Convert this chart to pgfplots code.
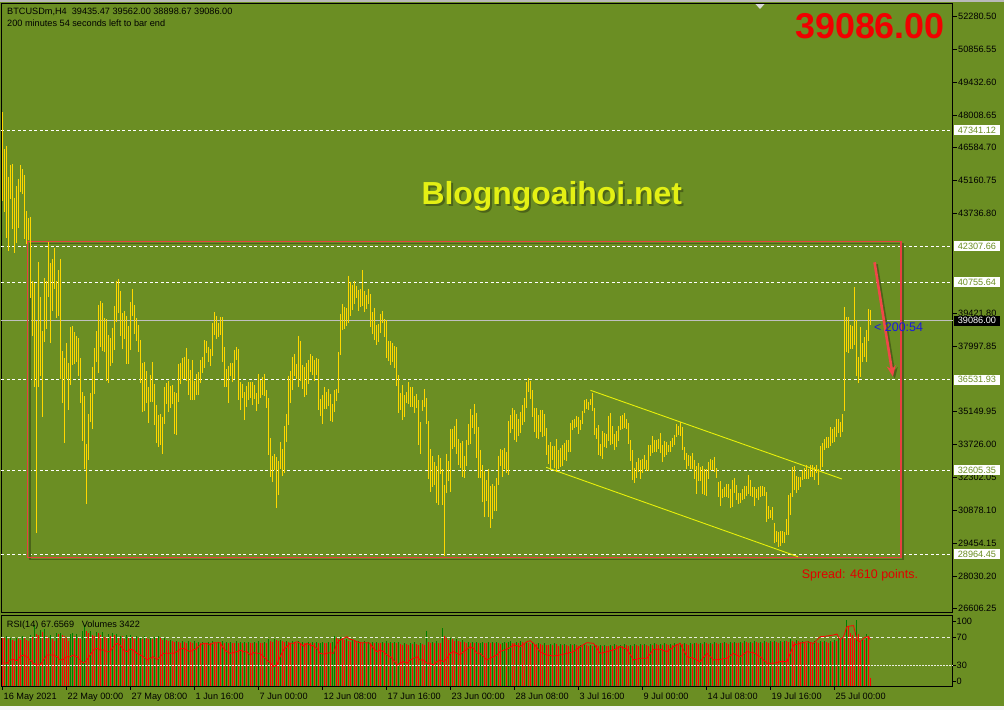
\documentclass[border=0pt]{standalone}
\usepackage{pgfplots}
\pgfplotsset{compat=1.18}
\usepackage{pgfplotstable}
\usepackage{fontspec}
\setmainfont{Liberation Sans}
\usetikzlibrary{arrows.meta,calc,backgrounds}

\definecolor{chartbg}{RGB}{107,142,35}
\definecolor{shadowc}{RGB}{75,99,25}
\definecolor{barcol}{RGB}{255,215,0}
\definecolor{chan}{RGB}{232,240,10}
\definecolor{rectred}{RGB}{232,64,64}
\definecolor{arrred}{RGB}{240,72,72}
\definecolor{bidgray}{RGB}{192,192,192}
\definecolor{volred}{RGB}{255,0,0}
\definecolor{volgreen}{RGB}{0,128,0}
\newcommand\sm{\fontsize{9.2}{11}\selectfont}

% BTCUSD H4 bars: high low (one row per bar, 16 May - 28 Jul 2021)
\pgfplotstableread[row sep=\\]{
h l\\
48134 44277\\ 46530 43800\\ 46660 42673\\ 45317 42110\\ 45837 44363\\ 45881 43063\\ 44407 42023\\ 44926 42456\\
45230 43107\\ 45837 44666\\ 45663 44580\\ 45403 42629\\ 43844 42413\\ 43540 42586\\ 43583 40073\\ 40810 38426\\
40723 36215\\ 39076 29888\\ 41633 36215\\ 40116 36692\\ 38643 34916\\ 40939 38165\\ 40810 38729\\ 42499 40116\\
41590 38122\\ 41763 39510\\ 42240 40462\\ 40810 39206\\ 41286 39293\\ 41763 36562\\ 37776 35522\\ 37473 33788\\
38122 36562\\ 37256 35219\\ 38816 36302\\ 38859 37169\\ 38599 37213\\ 38426 37299\\ 38339 36692\\ 37473 35522\\
35998 33875\\ 35825 32661\\ 33745 31145\\ 35046 33052\\ 35955 34698\\ 37082 34395\\ 37906 35912\\ 38643 37299\\
39769 36822\\ 39943 37949\\ 39856 37776\\ 39206 37732\\ 39163 36476\\ 38469 36389\\ 38339 37126\\ 38773 37256\\
39726 37819\\ 40810 39032\\ 40896 39423\\ 40376 38426\\ 39423 37862\\ 39510 38295\\ 39293 37213\\ 38859 37213\\
39899 37819\\ 40462 39293\\ 39769 38513\\ 39206 38209\\ 38902 37732\\ 38252 36389\\ 37256 35132\\ 37299 35176\\
36909 35522\\ 36215 34655\\ 36736 35565\\ 37299 35565\\ 36346 34568\\ 35435 33788\\ 35002 33615\\ 35046 33701\\
34916 33312\\ 36215 34612\\ 36389 35479\\ 36476 35132\\ 36258 35306\\ 36302 35479\\ 35998 34179\\ 35955 34135\\
37213 35565\\ 37256 36346\\ 37473 36562\\ 37516 36562\\ 37906 36476\\ 37429 35868\\ 36952 35652\\ 37386 35652\\
36476 35652\\ 36779 35868\\ 36865 35868\\ 37386 36389\\ 37516 36822\\ 38252 37039\\ 38209 37689\\ 37949 37299\\
37862 37126\\ 38989 37559\\ 39466 38469\\ 39293 38295\\ 38989 38382\\ 39249 38469\\ 39249 37299\\ 37949 36215\\
36995 36215\\ 37126 35522\\ 37256 36692\\ 37256 36432\\ 37819 36562\\ 37949 37386\\ 37862 35652\\ 36432 35219\\
36346 35738\\ 35998 34785\\ 36258 35349\\ 36432 35652\\ 36432 35738\\ 36432 35435\\ 36302 35695\\ 35955 35176\\
36779 35479\\ 36519 35738\\ 36649 35868\\ 36779 35825\\ 36085 35306\\ 35738 33268\\ 34005 32315\\ 33225 32098\\
33312 32618\\ 33182 30971\\ 33008 31535\\ 33832 32661\\ 33528 32358\\ 34525 32488\\ 35046 33832\\ 36692 34568\\
36909 35522\\ 37516 36085\\ 37646 36692\\ 37213 36562\\ 38426 36215\\ 38209 36476\\ 37169 36128\\ 37082 35782\\
37256 35868\\ 37386 36346\\ 37646 36865\\ 37559 36736\\ 37386 36476\\ 37473 36736\\ 37429 35219\\ 35695 34959\\
35868 34612\\ 36215 35262\\ 35998 35262\\ 36128 35392\\ 35912 34742\\ 35479 34698\\ 36085 35132\\ 36128 35608\\
37732 35955\\ 39380 37603\\ 39813 38686\\ 39683 38729\\ 39640 38859\\ 41026 38989\\ 40766 39293\\ 40636 39553\\
40810 39813\\ 40593 40073\\ 40419 39510\\ 40462 39683\\ 41286 39726\\ 40376 39466\\ 40203 39596\\ 40462 39813\\
40246 38816\\ 39466 38513\\ 39640 38252\\ 38902 38036\\ 38946 38165\\ 39380 38556\\ 39510 38989\\ 39163 38382\\
39119 37473\\ 38209 37343\\ 38209 37169\\ 38122 37299\\ 37992 37039\\ 37949 36258\\ 36736 35089\\ 35955 35219\\
36302 34785\\ 35868 34916\\ 35998 35522\\ 36432 35479\\ 36215 35349\\ 36215 35349\\ 35825 35089\\ 35912 35306\\
35652 33701\\ 34698 33312\\ 35652 35176\\ 36128 35349\\ 35738 34612\\ 34742 32228\\ 33528 31665\\ 33225 31881\\
32965 31968\\ 32791 31188\\ 33268 31101\\ 33138 32445\\ 32661 31101\\ 31968 28891\\ 33312 31621\\ 33008 32141\\
34395 31665\\ 34395 33528\\ 34525 33615\\ 34829 33312\\ 33961 32835\\ 33788 32705\\ 33875 32315\\ 33225 32271\\
33918 32791\\ 34612 33701\\ 35262 33745\\ 35002 34439\\ 35479 34179\\ 35089 33138\\ 34482 32271\\ 33485 32271\\
32835 31231\\ 32575 30581\\ 32185 31275\\ 32661 30581\\ 31925 30105\\ 32011 30495\\ 31925 30841\\ 32271 30841\\
33225 31968\\ 33528 32791\\ 33485 32315\\ 33571 32661\\ 33398 32488\\ 34742 32401\\ 35002 34222\\ 35306 34395\\
35219 33918\\ 35046 33832\\ 34829 34092\\ 35132 34222\\ 35435 34568\\ 35738 34698\\ 36432 35306\\ 36606 35998\\
36476 35695\\ 36085 34916\\ 35306 34265\\ 35306 34005\\ 35002 33961\\ 35219 34265\\ 35219 34048\\ 35046 34092\\
34439 33268\\ 33701 32878\\ 33832 32618\\ 33658 33052\\ 33658 32705\\ 33961 32531\\ 33485 32661\\ 33571 32748\\
33701 32791\\ 33788 33052\\ 33918 33008\\ 33918 33398\\ 34655 33398\\ 34785 34352\\ 34829 34439\\ 34959 34482\\
34916 34179\\ 34785 34352\\ 35176 34612\\ 35652 35089\\ 35695 35262\\ 35565 35219\\ 35695 35435\\ 35955 35176\\
35306 34135\\ 34439 33961\\ 34568 33268\\ 33745 33225\\ 34309 33095\\ 34222 33615\\ 34179 33571\\ 34959 33875\\
35089 33701\\ 34525 33745\\ 34179 33485\\ 34309 33615\\ 34525 33875\\ 34959 34352\\ 35002 34395\\ 35089 34439\\
34829 34395\\ 34655 33745\\ 33918 33008\\ 33485 32185\\ 32705 32055\\ 32965 32271\\ 33138 32531\\ 33052 32228\\
33095 32488\\ 33268 32661\\ 33052 32575\\ 33701 32575\\ 33701 33225\\ 34092 33355\\ 33918 33398\\ 33918 33398\\
33961 33528\\ 34222 33355\\ 33701 32965\\ 33875 33182\\ 33832 33268\\ 33701 33398\\ 33875 33398\\ 34005 33615\\
34135 33701\\ 34612 34048\\ 34525 34135\\ 34698 34092\\ 34482 33485\\ 33615 33052\\ 33355 32661\\ 33268 32791\\
33225 32661\\ 33355 32661\\ 33052 32228\\ 32791 31578\\ 32921 32141\\ 32748 32141\\ 32791 31578\\ 32661 31535\\
32661 31491\\ 32965 32228\\ 33095 32618\\ 33052 32618\\ 33182 32531\\ 32705 32271\\ 32098 31448\\ 32141 31058\\
31795 31405\\ 31881 31448\\ 32011 31448\\ 32011 31405\\ 31795 30971\\ 32185 31015\\ 32271 31621\\ 31968 31318\\
31621 31145\\ 31621 31188\\ 31795 31318\\ 31925 31361\\ 31925 31491\\ 32401 31578\\ 32185 31491\\ 31881 31448\\
31881 31058\\ 31795 31405\\ 31881 31318\\ 31925 31448\\ 31925 31491\\ 31881 31491\\ 31665 30365\\ 31058 30495\\
30885 30538\\ 31015 30451\\ 30321 29455\\ 29975 29498\\ 29931 29281\\ 29975 29325\\ 29975 29455\\ 29931 29455\\
30495 29801\\ 31535 29801\\ 31621 30668\\ 32748 31448\\ 32791 31751\\ 32358 31621\\ 32315 31751\\ 32315 31881\\
32618 32185\\ 32705 32228\\ 32835 32228\\ 32661 32228\\ 32835 32315\\ 32835 32315\\ 32748 32185\\ 32835 32488\\
32661 31968\\ 33658 32618\\ 33788 32748\\ 33961 33485\\ 34048 33571\\ 34048 33571\\ 34482 33658\\ 34395 33788\\
34482 33832\\ 34829 34048\\ 34829 34222\\ 34698 34048\\ 35046 34265\\ 39683 35176\\ 39249 37732\\ 39249 37689\\
38902 37862\\ 38859 37862\\ 40549 38036\\ 39119 36692\\ 37516 36389\\ 38816 36649\\ 38122 37299\\ 38382 37516\\
38686 37299\\ 39596 38209\\ 39562 38899\\
}\bars

% tick volumes, g=1 green (up) / 0 red (down)
\pgfplotstableread[row sep=\\]{
v g\\
21500 0\\ 21000 0\\ 21800 1\\ 20500 0\\ 20900 1\\ 20100 0\\ 19800 0\\ 21200 1\\ 20600 0\\ 20300 0\\ 21900 1\\ 21000 0\\
20400 0\\ 20000 0\\ 22300 1\\ 21700 0\\ 26800 1\\ 23000 0\\ 22400 0\\ 24600 1\\ 23900 0\\ 25200 1\\
22000 0\\ 21300 0\\ 22600 1\\ 20500 0\\ 19600 0\\ 23200 1\\ 22800 0\\ 23400 1\\ 22400 0\\ 21800 0\\ 20900 0\\ 19800 0\\
22700 1\\ 23100 1\\ 22200 0\\ 22900 1\\ 21000 0\\ 20500 0\\ 24200 1\\ 26800 1\\ 24300 0\\
23400 0\\ 24100 1\\ 22600 0\\ 21900 0\\ 23800 1\\ 23200 0\\ 22500 0\\ 23600 1\\ 21700 0\\ 21200 0\\ 22800 1\\ 21900 0\\
23100 1\\ 22400 0\\ 22900 1\\ 21500 0\\ 22200 1\\ 21800 0\\ 20800 0\\ 22600 1\\ 21700 0\\ 22300 1\\ 21400 0\\ 20600 0\\
21800 1\\ 20900 0\\ 21600 1\\ 20700 0\\ 21900 1\\ 21200 0\\ 20500 0\\ 21400 1\\ 20800 0\\ 21700 1\\ 21100 0\\
21900 1\\ 21000 0\\ 20300 0\\ 20900 1\\ 20100 0\\ 19600 0\\ 20400 1\\ 19800 0\\ 19300 0\\ 20000 1\\ 19500 0\\ 19100 0\\
19900 1\\ 19400 0\\ 19000 0\\ 19700 1\\ 19200 0\\ 18900 0\\ 19600 1\\
19100 0\\ 19500 1\\ 18900 0\\ 19400 1\\ 19000 0\\ 18800 0\\ 19300 1\\ 19100 0\\ 19600 1\\ 19000 0\\
18700 0\\ 19500 1\\ 19200 0\\ 19700 1\\ 18900 0\\ 19300 1\\ 18800 0\\ 19400 1\\ 19000 0\\ 18700 0\\
19600 1\\ 19100 0\\ 19500 1\\ 18900 0\\ 19400 1\\ 18800 0\\ 19200 1\\ 19000 0\\ 18700 0\\ 19500 1\\
19100 0\\ 19600 1\\ 19000 0\\ 18800 0\\ 19300 1\\ 19000 0\\
20500 1\\ 19800 0\\ 19300 0\\ 20800 1\\ 20100 0\\ 19600 0\\ 20300 1\\ 19700 0\\ 19200 0\\ 19900 1\\ 19400 0\\ 19000 0\\
19700 1\\ 19200 0\\ 18900 0\\ 19600 1\\
19100 0\\ 19500 1\\ 19000 0\\ 18800 0\\ 19400 1\\ 18900 0\\ 19300 1\\ 18800 0\\ 19200 1\\ 18700 0\\ 19100 1\\ 19500 1\\
19000 0\\ 18700 0\\ 19400 1\\ 18900 0\\ 19200 1\\
21900 1\\ 21200 0\\ 20600 0\\ 21500 1\\ 20800 0\\ 20100 0\\ 20700 1\\ 20000 0\\ 19500 0\\ 20200 1\\ 19700 0\\ 19300 0\\
19900 1\\ 19400 0\\ 19000 0\\ 19600 1\\
19100 0\\ 19500 1\\ 18900 0\\ 19300 1\\ 18800 0\\ 19400 1\\ 19000 0\\ 18700 0\\ 19500 1\\ 19100 0\\ 19600 1\\ 18900 0\\
19200 1\\ 18800 0\\ 19300 1\\ 18900 0\\ 19400 1\\
18600 0\\ 18200 0\\ 19000 1\\ 18500 0\\ 17900 0\\ 18800 1\\ 18300 0\\ 19200 1\\ 18600 0\\ 18100 0\\ 18900 1\\ 18400 0\\
18000 0\\ 24100 1\\ 19200 0\\ 18700 0\\
19300 1\\ 18900 0\\ 19600 1\\ 19100 0\\ 18700 0\\ 25400 1\\ 21800 0\\ 21000 0\\ 20300 0\\ 21300 1\\ 20600 0\\ 19900 0\\
20600 1\\ 20000 0\\ 19400 0\\ 20100 1\\ 19500 0\\
19000 0\\ 19400 1\\ 18900 0\\ 19300 1\\ 18800 0\\ 19200 1\\ 18700 0\\ 19100 1\\ 19500 1\\ 19000 0\\ 18700 0\\ 19400 1\\
18900 0\\ 19300 1\\ 18800 0\\ 19200 1\\ 18700 0\\
18400 0\\ 18900 1\\ 19500 1\\ 18800 0\\ 19300 1\\ 19700 1\\ 19100 0\\ 18700 0\\ 19400 1\\ 18900 0\\ 19800 1\\ 19200 0\\
18800 0\\ 19500 1\\ 18900 0\\ 18500 0\\ 19100 1\\ 18600 0\\ 18300 0\\ 18900 1\\ 18400 0\\ 18000 0\\
18700 1\\ 18200 0\\ 17900 0\\ 18500 1\\ 18100 0\\ 18800 1\\ 18300 0\\ 17800 0\\ 18400 1\\ 17900 0\\
18600 1\\ 18200 0\\ 17700 0\\ 18300 1\\ 17900 0\\ 18500 1\\ 18000 0\\ 17600 0\\ 18200 1\\ 17800 0\\
18400 1\\ 18000 0\\ 17500 0\\ 18100 1\\ 17700 0\\ 18300 1\\ 17900 0\\ 17400 0\\ 18000 1\\ 17600 0\\
18200 1\\ 17800 0\\ 17400 0\\ 18000 1\\ 17600 0\\ 18300 1\\ 17900 0\\ 17500 0\\ 18100 1\\ 17700 0\\
18400 1\\ 18000 0\\ 17600 0\\ 18200 1\\ 17800 0\\ 18500 1\\ 18100 0\\ 17700 0\\ 18300 1\\ 17900 0\\
18600 1\\ 18200 0\\ 17800 0\\ 18400 1\\ 18000 0\\ 18700 1\\ 18300 0\\ 17900 0\\ 18500 1\\ 18100 0\\
18800 1\\ 18400 0\\ 18000 0\\ 18600 1\\ 18200 0\\ 18900 1\\ 18500 0\\ 18100 0\\ 18700 1\\ 18300 0\\
19000 1\\ 18600 0\\ 18200 0\\ 18800 1\\ 18400 0\\ 19100 1\\ 18700 0\\ 18300 0\\ 18900 1\\ 18500 0\\
19200 1\\ 18800 0\\ 18400 0\\ 19000 1\\ 18600 0\\ 19300 1\\ 18900 0\\ 18500 0\\ 19100 1\\ 18700 0\\
19400 1\\ 19000 0\\ 18600 0\\ 19200 1\\ 18800 0\\ 19500 1\\ 19100 0\\ 18700 0\\ 19300 1\\ 18900 0\\
19600 1\\ 19200 0\\ 18800 0\\ 19400 1\\ 19000 0\\ 19700 1\\ 19300 0\\ 18900 0\\ 19500 1\\ 19100 0\\
19800 1\\ 19400 0\\ 19000 0\\ 19600 1\\ 19200 0\\ 19900 1\\ 19500 0\\ 19100 0\\ 19700 1\\ 19300 0\\
20000 1\\ 19600 0\\ 19200 0\\ 20500 1\\ 19900 0\\ 19400 0\\ 20100 1\\ 19700 0\\ 19300 0\\ 19900 1\\
19500 0\\ 19100 0\\ 19800 1\\ 19400 0\\ 19000 0\\ 19700 1\\ 19300 0\\ 18900 0\\ 19600 1\\ 19200 0\\
19900 1\\ 19500 0\\ 19100 0\\ 19800 1\\ 19400 0\\ 20300 1\\ 19800 0\\
21200 1\\ 20500 0\\ 21600 1\\ 20900 0\\ 29000 1\\ 25800 0\\ 23500 0\\ 22300 0\\ 21500 0\\ 29000 1\\ 23000 0\\ 19500 0\\
20800 1\\ 20100 0\\ 22800 1\\ 22000 0\\ 3422 0\\
}\vols

\begin{document}
\begin{tikzpicture}[x=1bp,y=1bp]

% ---------------- price panel ----------------
\begin{axis}[
  name=main, anchor=south west, scale only axis,
  width=951.2bp, height=608.7bp,
  xmin=-0.6, xmax=474.99, ymin=26464, ymax=52845,
  axis line style={black, line width=0.8bp},
  xtick=\empty, scaled y ticks=false,
  ytick pos=right, tick align=outside, major tick length=4bp,
  tick style={black, line width=0.6bp},
  ytick={52280.50,50856.55,49432.60,48008.65,46584.70,45160.75,43736.80,39421.80,37997.85,35149.95,33726.00,32302.05,30878.10,29454.15,28030.20,26606.25},
  yticklabels={52280.50,50856.55,49432.60,48008.65,46584.70,45160.75,43736.80,39421.80,37997.85,35149.95,33726.00,32302.05,30878.10,29454.15,28030.20,26606.25},
  yticklabel style={font=\sm, inner sep=0pt, xshift=1.5bp},
  clip=false,
]
\coordinate (O) at (rel axis cs:0,0);
% horizontal levels
\addplot[white, line width=0.9bp, dash pattern=on 3bp off 2.5bp] coordinates {(-0.6,47341.12) (474.99,47341.12)};
\addplot[white, line width=0.9bp, dash pattern=on 3bp off 2.5bp] coordinates {(-0.6,42307.66) (474.99,42307.66)};
\addplot[white, line width=0.9bp, dash pattern=on 3bp off 2.5bp] coordinates {(-0.6,40755.64) (474.99,40755.64)};
\addplot[white, line width=0.9bp, dash pattern=on 3bp off 2.5bp] coordinates {(-0.6,36531.93) (474.99,36531.93)};
\addplot[white, line width=0.9bp, dash pattern=on 3bp off 2.5bp] coordinates {(-0.6,32605.35) (474.99,32605.35)};
\addplot[white, line width=0.9bp, dash pattern=on 3bp off 2.5bp] coordinates {(-0.6,28964.45) (474.99,28964.45)};
\addplot[bidgray, line width=0.9bp] coordinates {(-0.6,39086.00) (474.99,39086.00)};

% rectangle with shadow
\draw[shadowc, line width=1.6bp] ([xshift=2.2bp,yshift=-2.2bp]axis cs:12.5,42521) rectangle ([xshift=2.2bp,yshift=-2.2bp]axis cs:449.2,28835);
\draw[rectred, line width=1.2bp] (axis cs:12.5,42521) rectangle (axis cs:449.2,28835);

% channel
\addplot[chan, line width=0.9bp] coordinates {(294.0,36072) (419.7,32228)};
\addplot[chan, line width=0.9bp] coordinates {(271.8,32735) (397.7,28861)};

% bars (high-low)
\addplot[draw=none, mark=none,
  error bars/.cd, y dir=minus, y explicit, error mark=none,
  error bar style={draw=barcol, line width=1.3bp}]
  table[x expr=\coordindex, y=h, y error minus expr=\thisrow{h}-\thisrow{l}] {\bars};

% arrow
\draw[shadowc, line width=2.6bp, -{Stealth[length=11bp,width=9bp]}] ([xshift=2bp,yshift=-2bp]axis cs:436.0,41620) -- ([xshift=2bp,yshift=-2bp]axis cs:445.2,36662);
\draw[arrred, line width=2.6bp, -{Stealth[length=11bp,width=9bp]}] (axis cs:436.0,41620) -- (axis cs:445.2,36662);

\coordinate (L1) at (axis cs:474.99,47341.12);
\coordinate (L2) at (axis cs:474.99,42307.66);
\coordinate (L3) at (axis cs:474.99,40755.64);
\coordinate (L4) at (axis cs:474.99,39086.00);
\coordinate (L5) at (axis cs:474.99,36531.93);
\coordinate (L6) at (axis cs:474.99,32605.35);
\coordinate (L7) at (axis cs:474.99,28964.45);
\end{axis}

\coordinate (R) at ($(O)+(0,-74.7)$);

% ---------------- volume (under RSI) ----------------
\begin{axis}[
  at={(R)}, anchor=south west, scale only axis,
  width=951.2bp, height=71.7bp,
  xmin=-0.6, xmax=474.99, ymin=-263, ymax=31213,
  hide axis,
]
\addplot[ycomb, volgreen, line width=1.2bp, mark=none, restrict expr to domain={\thisrow{g}}{0.5:1.5}]
  table[x expr=\coordindex, y=v] {\vols};
\addplot[ycomb, volred, line width=1.2bp, mark=none, restrict expr to domain={\thisrow{g}}{-0.5:0.5}]
  table[x expr=\coordindex, y=v] {\vols};
\end{axis}

% ---------------- RSI panel ----------------
\begin{axis}[
  at={(R)}, anchor=south west, scale only axis,
  width=951.2bp, height=71.7bp,
  xmin=-0.6, xmax=474.99, ymin=-0.9, ymax=102.7,
  axis line style={black, line width=0.8bp},
  xtick={0,32,...,416}, xticklabels={}, xtick pos=bottom,
  ytick pos=right, tick align=outside, major tick length=3bp,
  tick style={black, line width=0.6bp},
  ytick={7.4,30,70,93}, yticklabels={0,30,70,100},
  yticklabel style={font=\sm, inner sep=0pt, xshift=1bp},
  clip=false,
]
\addplot[white!85!chartbg, line width=0.7bp, dash pattern=on 3bp off 2.5bp] coordinates {(-0.6,70) (474.99,70)};
\addplot[white!85!chartbg, line width=0.7bp, dash pattern=on 1.5bp off 1.5bp] coordinates {(-0.6,30) (474.99,30)};
\addplot[red, line width=0.8bp] coordinates {
(0.5,33.8)(2.2,32.9)(3.8,37.7)(5.5,38.6)(7.2,36.7)(8.8,42.5)(10.5,44.9)(12.2,42.5)(13.8,37.7)(15.5,32.9)
(17.2,30.4)(18.8,30.4)(20.5,37.7)(22.2,44.9)(23.8,44.9)(25.5,44.9)(27.2,42.5)(28.8,37.7)(30.5,38.6)(32.2,42.5)
(33.8,42.5)(35.5,44.9)(37.2,42.5)(38.8,37.7)(40.5,32.9)(42.2,37.7)(43.8,44.9)(45.5,52.1)(47.2,54.5)(48.8,52.1)
(50.5,52.1)(52.2,49.7)(53.8,49.7)(55.5,57.0)(57.2,61.8)(58.8,59.3)(60.5,52.1)(62.2,49.7)(63.8,53.1)(65.5,52.1)
(67.2,47.3)(68.8,44.9)(70.5,42.5)(72.2,37.7)(73.8,40.1)(75.5,42.5)(77.2,37.7)(78.8,42.5)(80.5,47.3)(82.2,47.3)
(83.8,47.3)(85.5,47.3)(87.2,49.7)(88.8,53.1)(90.5,54.5)(92.2,52.1)(93.8,49.7)(95.5,52.1)(97.2,54.5)(98.8,59.3)
(100.5,61.8)(102.2,61.8)(103.8,59.3)(105.5,62.7)(107.2,62.7)(108.8,62.7)(110.5,54.5)(112.2,49.7)(113.8,47.3)(115.5,48.3)
(117.2,49.7)(118.8,52.1)(120.5,49.7)(122.2,49.7)(123.8,44.9)(125.5,48.3)(127.2,47.3)(128.8,47.3)(130.5,42.5)(132.2,37.7)
(133.8,33.8)(135.5,28.1)(137.2,30.4)(138.8,42.5)(140.5,52.1)(142.2,57.0)(143.8,61.8)(145.5,61.8)(147.2,64.1)(148.8,61.8)
(150.5,57.9)(152.2,61.8)(153.8,59.3)(155.5,57.9)(157.2,54.5)(158.8,47.3)(160.5,46.3)(162.2,47.3)(163.8,48.3)(165.5,47.3)
(167.2,61.8)(168.8,66.6)(170.5,68.9)(172.2,71.3)(173.8,67.4)(175.5,66.6)(177.2,64.1)(178.8,62.7)(180.5,62.7)(182.2,62.7)
(183.8,61.8)(185.5,54.5)(187.2,49.7)(188.8,52.1)(190.5,49.7)(192.2,44.9)(193.8,42.5)(195.5,37.7)(197.2,30.4)(198.8,32.9)
(200.5,35.3)(202.2,32.9)(203.8,37.7)(205.5,40.1)(207.2,42.5)(208.8,37.7)(210.5,37.7)(212.2,32.9)(213.8,32.9)(215.5,30.4)
(217.2,35.3)(218.8,37.7)(220.5,35.3)(222.2,40.1)(223.8,47.3)(225.5,49.7)(227.2,47.3)(228.8,44.9)(230.5,49.7)(232.2,53.1)
(233.8,57.0)(235.5,54.5)(237.2,47.3)(238.8,47.3)(240.5,42.5)(242.2,37.7)(243.8,40.1)(245.5,42.5)(247.2,44.9)(248.8,50.0)
(252.2,53.1)(255.5,59.3)(258.8,57.0)(262.2,64.1)(263.8,65.6)(265.5,61.8)(268.8,49.7)(272.2,44.9)(275.5,43.4)(278.8,44.9)
(282.2,47.3)(285.5,49.7)(288.8,57.0)(292.2,62.7)(295.5,61.8)(298.8,47.3)(302.2,49.7)(305.5,52.1)(308.8,57.0)(312.2,53.1)
(315.5,37.7)(318.8,40.1)(322.2,40.1)(325.5,53.1)(328.8,53.1)(332.2,49.7)(335.5,57.0)(338.8,61.8)(342.2,42.5)(345.5,40.1)
(348.8,35.3)(352.2,47.3)(355.5,37.7)(358.8,38.6)(362.2,40.1)(365.5,47.3)(368.8,42.5)(372.2,49.7)(375.5,48.3)(378.8,42.5)
(382.2,32.9)(385.5,32.9)(388.8,35.3)(392.2,35.3)(395.5,59.3)(398.8,61.8)(402.2,64.1)(405.5,61.8)(408.8,71.3)(412.2,72.3)
(415.5,73.8)(417.2,75.2)(418.8,66.6)(420.5,71.3)(422.2,85.8)(423.8,86.8)(425.5,87.3)(427.2,66.6)(428.8,64.1)(430.5,68.9)
(432.2,71.3)(434,67.7)};
\node[anchor=base west, font=\sm, inner sep=0pt, yshift=-13.3bp, xshift=1bp] at (axis cs:0,-0.9) {16 May 2021};
\node[anchor=base west, font=\sm, inner sep=0pt, yshift=-13.3bp, xshift=1bp] at (axis cs:32,-0.9) {22 May 00:00};
\node[anchor=base west, font=\sm, inner sep=0pt, yshift=-13.3bp, xshift=1bp] at (axis cs:64,-0.9) {27 May 08:00};
\node[anchor=base west, font=\sm, inner sep=0pt, yshift=-13.3bp, xshift=1bp] at (axis cs:96,-0.9) {1 Jun 16:00};
\node[anchor=base west, font=\sm, inner sep=0pt, yshift=-13.3bp, xshift=1bp] at (axis cs:128,-0.9) {7 Jun 00:00};
\node[anchor=base west, font=\sm, inner sep=0pt, yshift=-13.3bp, xshift=1bp] at (axis cs:160,-0.9) {12 Jun 08:00};
\node[anchor=base west, font=\sm, inner sep=0pt, yshift=-13.3bp, xshift=1bp] at (axis cs:192,-0.9) {17 Jun 16:00};
\node[anchor=base west, font=\sm, inner sep=0pt, yshift=-13.3bp, xshift=1bp] at (axis cs:224,-0.9) {23 Jun 00:00};
\node[anchor=base west, font=\sm, inner sep=0pt, yshift=-13.3bp, xshift=1bp] at (axis cs:256,-0.9) {28 Jun 08:00};
\node[anchor=base west, font=\sm, inner sep=0pt, yshift=-13.3bp, xshift=1bp] at (axis cs:288,-0.9) {3 Jul 16:00};
\node[anchor=base west, font=\sm, inner sep=0pt, yshift=-13.3bp, xshift=1bp] at (axis cs:320,-0.9) {9 Jul 00:00};
\node[anchor=base west, font=\sm, inner sep=0pt, yshift=-13.3bp, xshift=1bp] at (axis cs:352,-0.9) {14 Jul 08:00};
\node[anchor=base west, font=\sm, inner sep=0pt, yshift=-13.3bp, xshift=1bp] at (axis cs:384,-0.9) {19 Jul 16:00};
\node[anchor=base west, font=\sm, inner sep=0pt, yshift=-13.3bp, xshift=1bp] at (axis cs:416,-0.9) {25 Jul 00:00};
\end{axis}

% level labels on the price scale
\foreach \c/\t in {L1/47341.12,L2/42307.66,L3/40755.64,L5/36531.93,L6/32605.35,L7/28964.45}
  \node[anchor=west, xshift=1.5bp, fill=white, text=chartbg, font=\sm, inner sep=0pt,
        minimum width=45.5bp, minimum height=10bp] at (\c) {\t};
\node[anchor=west, xshift=1.5bp, fill=black, text=white, font=\sm, inner sep=0pt,
      minimum width=45.5bp, minimum height=10bp] at (L4) {39086.00};

% background and texts, in picture pixels measured from the lower-left corner
\begin{pgfonlayer}{background}
\begin{scope}[shift={($(O)+(-1.3,-98)$)}]
\fill[chartbg] (0,0) rectangle (1004,710);
\fill[gray!55] (0,707.5) rectangle (1004,710);
\fill[gray!8] (0,0) rectangle (1004,4);
\fill[gray!30] (755,706.5) -- (765,706.5) -- (760,701) -- cycle;
\end{scope}
\end{pgfonlayer}

\begin{scope}[shift={($(O)+(-1.3,-98)$)}]
\node[anchor=base west, font=\sm, inner sep=0pt] at (7,695) {BTCUSDm,H4\ \ 39435.47 39562.00 38898.67 39086.00};
\node[anchor=base west, font=\sm, inner sep=0pt] at (7,683) {200 minutes 54 seconds left to bar end};
\node[anchor=base west, font=\sm, inner sep=0pt] at (6.7,82.7) {RSI(14) 67.6569\ \ \ Volumes 3422};
\node[anchor=base west, inner sep=0pt, text={rgb,255:red,240;green,0;blue,0}, font=\fontsize{36}{40}\selectfont\bfseries] at (795,671) {39086.00};
\node[inner sep=0pt, text=shadowc, font=\fontsize{32}{36}\selectfont\bfseries] at (553.7,511.3) {Blogngoaihoi.net};
\node[inner sep=0pt, text={rgb,255:red,228;green,240;blue,20}, font=\fontsize{32}{36}\selectfont\bfseries] at (551.7,513.3) {Blogngoaihoi.net};
\node[anchor=west, inner sep=0pt, text={rgb,255:red,25;green,25;blue,225}, font=\fontsize{12.5}{14}\selectfont] at (874,383) {< 200:54};
\node[anchor=west, inner sep=0pt, text={rgb,255:red,225;green,0;blue,0}, font=\fontsize{12.5}{14}\selectfont] at (801.7,135) {Spread: 4610 points.};
\end{scope}

% page exactly 1004 x 710 bp
\pgfresetboundingbox
\path[use as bounding box] ($(O)+(-1.3,-98)$) rectangle ($(O)+(1002.7,612)$);
\end{tikzpicture}
\end{document}
